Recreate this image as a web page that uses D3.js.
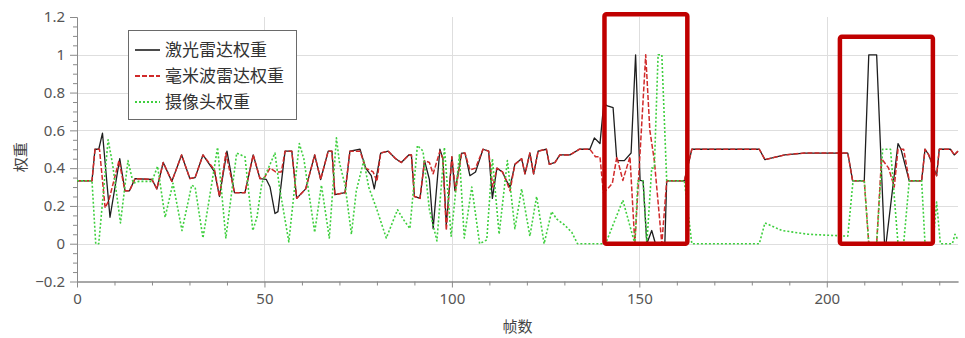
<!DOCTYPE html>
<html>
<head>
<meta charset="utf-8">
<style>
  html, body { margin: 0; padding: 0; background: #fff; }
  #viz { display: block; }
  text { font-family: "Noto Sans", "Noto Sans CJK SC", sans-serif; }
</style>
</head>
<body>
<svg id="viz" width="965" height="338"></svg>
<script src="https://cdn.jsdelivr.net/npm/d3@7"></script>
<script>
// frame numbers and weights, [frame, weight]
const laserWeight = [
  [0,0.333],[4,0.333],[4.8,0.5],[5.8,0.5],[6.8,0.585],[8.8,0.14],[11.4,0.45],[12.8,0.28],[14,0.28],[15.5,0.345],
  [20,0.34],[21.3,0.29],[23,0.43],[25.3,0.33],[27.9,0.47],[30.1,0.345],[31.5,0.35],[33.6,0.47],[36.7,0.38],[38,0.25],
  [40,0.49],[42,0.27],[44.8,0.27],[47,0.47],[48.8,0.345],[50.5,0.34],[51.5,0.3],[52.8,0.16],[53.6,0.17],[55.5,0.49],
  [57.3,0.49],[58.6,0.24],[61,0.29],[63.4,0.47],[65,0.34],[67,0.49],[68,0.49],[68.8,0.26],[71.5,0.27],[72.8,0.49],
  [75.5,0.5],[77,0.4],[78.5,0.36],[79.3,0.29],[81,0.48],[83,0.49],[85,0.45],[86.5,0.43],[88.5,0.47],[89.2,0.47],
  [90,0.25],[91.5,0.24],[92.7,0.44],[94,0.34],[95,0.08],[96.8,0.5],[97.6,0.45],[98.5,0.1],[100,0.46],[100.8,0.28],
  [102.6,0.48],[103.5,0.48],[104.8,0.36],[106.3,0.38],[108.3,0.5],[109.8,0.49],[110.8,0.24],[112,0.4],[113.5,0.38],[114.5,0.335],
  [115.5,0.3],[116.8,0.42],[118.6,0.45],[119.5,0.37],[120.8,0.48],[121.8,0.37],[123,0.49],[125.2,0.5],[126,0.42],[127.5,0.43],
  [128.8,0.47],[131.5,0.47],[134,0.5],[136.8,0.5],[138,0.56],[139.5,0.53],[140.5,0.74],[141.5,0.73],[143,0.72],[144,0.44],
  [146,0.44],[147.8,0.48],[149,1],[150.2,0.335],[151,0.333],[152,0],[153.3,0.07],[154.3,0],[156.8,0],[157.3,0.333],
  [162,0.333],[164,0.5],[182,0.5],[183.5,0.445],[188.8,0.47],[194,0.48],[205.6,0.48],[206.9,0.333],[210,0.333],[211.2,1],
  [213.3,1],[215.4,0],[215.8,0],[219,0.53],[219.8,0.5],[222,0.333],[225.3,0.333],[226.2,0.5],[227.2,0.47],[229.3,0.36],
  [230,0.5],[233,0.5],[234,0.47],[235,0.49]
];

const radarWeight = [
  [0,0.333],[4,0.333],[4.8,0.5],[6,0.5],[7.5,0.19],[8.5,0.23],[11.2,0.44],[12.8,0.28],[14,0.28],[15.5,0.345],
  [20,0.34],[21.3,0.29],[23,0.43],[25.3,0.33],[27.9,0.47],[30.1,0.345],[31.5,0.35],[33.6,0.47],[36.7,0.39],[38,0.25],
  [39.7,0.48],[42,0.27],[44.8,0.27],[47,0.47],[48.8,0.345],[50,0.35],[51.5,0.4],[53,0.38],[54.5,0.38],[55.5,0.49],
  [57.3,0.49],[58.6,0.24],[61,0.29],[63.4,0.47],[65,0.34],[67,0.49],[68,0.49],[68.8,0.26],[71.5,0.27],[72.8,0.49],
  [75.5,0.49],[77,0.4],[79,0.38],[80,0.33],[81,0.48],[83,0.49],[85,0.45],[86.5,0.43],[88.5,0.47],[89.2,0.47],
  [90,0.25],[91.5,0.24],[92.7,0.44],[94,0.43],[95,0.37],[96.8,0.49],[97.6,0.45],[98.5,0.07],[100,0.46],[101,0.28],
  [102.6,0.48],[103.5,0.48],[104.8,0.39],[106.3,0.4],[108.3,0.5],[109.8,0.49],[110.9,0.3],[112,0.4],[113.5,0.38],[114.5,0.335],
  [115.5,0.28],[116.8,0.42],[118.6,0.45],[119.5,0.37],[120.8,0.48],[121.8,0.37],[123,0.49],[125.2,0.5],[126,0.42],[127.5,0.43],
  [128.8,0.47],[131.5,0.47],[134,0.5],[136.8,0.5],[138.3,0.46],[139.5,0.46],[140.4,0.27],[141.5,0.29],[142.8,0.32],[144,0.46],
  [145.6,0.335],[147.5,0.46],[148.8,0],[151.7,1],[152.8,0.6],[154,0.44],[156,0],[157.3,0.333],[162,0.333],[164,0.5],
  [182,0.5],[183.5,0.445],[188.8,0.47],[194,0.48],[205.6,0.48],[206.9,0.333],[210,0.333],[211.2,0],[213.3,0],[214.6,0.45],
  [216.5,0.4],[218,0.3],[219,0.5],[220.5,0.5],[222,0.333],[225.3,0.333],[226.2,0.5],[227.2,0.47],[229.3,0.36],[230,0.5],
  [233,0.5],[234,0.47],[235,0.49]
];

const cameraWeight = [
  [0,0.333],[4,0.333],[5,0],[5.8,0],[8.3,0.55],[9.5,0.42],[11.6,0.11],[13.6,0.44],[15,0.32],[16.5,0.33],
  [20,0.33],[21.5,0.41],[23.5,0.14],[25.6,0.32],[28,0.07],[30.6,0.31],[31.5,0.3],[33.6,0.03],[37.5,0.51],[39.7,0.03],
  [42.6,0.48],[44.8,0.46],[46.9,0.07],[48,0.14],[49.3,0.32],[52.8,0.48],[54,0.3],[56.5,0.01],[59.3,0.53],[60.5,0.45],
  [63.4,0.06],[65.2,0.31],[67.3,0.03],[69.2,0.56],[70,0.43],[71.5,0.31],[73.2,0.05],[74.5,0.28],[76.5,0.44],[77.8,0.3],
  [80,0.18],[82.5,0.03],[85.5,0.18],[87,0.13],[88.8,0.08],[90.8,0.52],[92.3,0.49],[94,0.18],[96,0.015],[98,0.51],
  [99.8,0.04],[102,0.47],[103.3,0.03],[105.3,0.3],[107.4,0],[109.3,0.02],[110.8,0.45],[112.6,0.05],[114.8,0.44],[116.8,0.08],
  [118.6,0.29],[120.8,0.04],[122.6,0.25],[124.6,0],[126.6,0.17],[128,0.13],[130,0.1],[132,0.06],[133.5,0],[141,0],
  [145.6,0.23],[148.8,0],[149.6,0.333],[151,0.333],[152,0],[153.3,0.4],[154,0.4],[155,1],[156,1],[157.3,0.333],
  [162,0.333],[164,0],[182,0],[183.5,0.11],[188,0.07],[195,0.05],[205.6,0.04],[207,0.333],[210,0.333],[211.2,0],
  [213.3,0],[214.9,0.5],[217,0.5],[219,0],[220.5,0],[222,0.333],[225.3,0.333],[226.2,0],[228.3,0],[229.3,0.22],
  [230.3,0],[233.5,0],[234.2,0.05],[235,0.02]
];

const seriesNames = ['激光雷达权重', '毫米波雷达权重', '摄像头权重'];
const xTicks = [0, 50, 100, 150, 200];
const yTicks = [-0.2, 0, 0.2, 0.4, 0.6, 0.8, 1, 1.2];
const yTickLabels = ['\u22120.2', '0', '0.2', '0.4', '0.6', '0.8', '1', '1.2'];
const xLabel = '帧数';
const yLabel = '权重';
// highlighted regions: [frame from, frame to, weight bottom, weight top]
const highlightBoxes = [[140.7, 162.8, 0, 1.215], [203.5, 228.3, 0, 1.096]];

const svg = d3.select('#viz');
const plot = { left: 77, right: 958, top: 17, bottom: 281.5 };

const x = d3.scaleLinear().domain([0, 235]).range([plot.left, plot.right]);
const y = d3.scaleLinear().domain([-0.2, 1.2]).range([plot.bottom, plot.top]);

const styles = [
  { color: '#1e1e1e', dash: null, width: 1.3 },
  { color: '#d02a2a', dash: '5,2', width: 1.5 },
  { color: '#3fcf3f', dash: '2,2', width: 1.6 },
];

// grid
const grid = svg.append('g').attr('stroke', '#dedede').attr('stroke-width', 1);
grid.selectAll('.hg')
  .data(yTicks.filter(v => v > -0.2 && v < 1.2))
  .join('line')
  .attr('x1', plot.left).attr('x2', plot.right)
  .attr('y1', d => Math.round(y(d)) + 0.5).attr('y2', d => Math.round(y(d)) + 0.5);
grid.selectAll('.vg')
  .data(xTicks.filter(v => v > 0))
  .join('line')
  .attr('x1', d => Math.round(x(d)) + 0.5).attr('x2', d => Math.round(x(d)) + 0.5)
  .attr('y1', plot.top).attr('y2', plot.bottom);

// axes
const xAxis = d3.axisBottom(x).tickValues(xTicks).tickSize(6).tickSizeOuter(0).tickPadding(6);
const xMinor = d3.axisBottom(x).tickValues(d3.range(10, 235, 10).filter(v => v % 50)).tickSize(4).tickSizeOuter(0).tickFormat('');
const yAxis = d3.axisLeft(y).tickValues(yTicks).tickFormat((d, i) => yTickLabels[i]).tickSize(7).tickSizeOuter(0).tickPadding(5);
const yMinor = d3.axisLeft(y).tickValues(d3.range(-0.15, 1.2, 0.05).filter(v => Math.abs(Math.round(v * 5) - v * 5) > 0.01)).tickSize(4).tickSizeOuter(0).tickFormat('');

function styleAxis(g) {
  g.select('.domain').attr('stroke', '#8a8a8a');
  g.selectAll('.tick line').attr('stroke', '#8a8a8a');
  g.selectAll('.tick text').attr('fill', '#555').style('font-size', '15px').style('font-family', '"Noto Sans", sans-serif');
}

svg.append('g').attr('transform', `translate(0,${plot.bottom})`).call(xMinor).call(styleAxis);
svg.append('g').attr('transform', `translate(0,${plot.bottom})`).call(xAxis).call(styleAxis);
svg.append('g').attr('transform', `translate(${plot.left},0)`).call(yMinor).call(styleAxis);
svg.append('g').attr('transform', `translate(${plot.left},0)`).call(yAxis).call(styleAxis);

svg.append('text')
  .attr('x', (plot.left + plot.right) / 2).attr('y', 332)
  .attr('text-anchor', 'middle')
  .attr('fill', '#444')
  .style('font-size', '15px')
  .style('font-family', '"Noto Sans CJK SC", sans-serif')
  .text(xLabel);

svg.append('text')
  .attr('transform', `translate(26,${(plot.top + plot.bottom) / 2 + 8}) rotate(-90)`)
  .attr('text-anchor', 'middle')
  .attr('fill', '#444')
  .style('font-size', '15px')
  .style('font-family', '"Noto Sans CJK SC", sans-serif')
  .text(yLabel);

// series, drawn in legend order so the camera dots end up on top
const line = d3.line().x(d => x(d[0])).y(d => y(d[1]));
const series = [laserWeight, radarWeight, cameraWeight];
series.forEach((data, i) => {
  svg.append('path')
    .datum(data)
    .attr('fill', 'none')
    .attr('stroke', styles[i].color)
    .attr('stroke-width', styles[i].width)
    .attr('stroke-dasharray', styles[i].dash)
    .attr('stroke-linejoin', 'round')
    .attr('d', line);
});

// legend
const legend = svg.append('g');
legend.append('rect')
  .attr('x', 128.5).attr('y', 30.5).attr('width', 168).attr('height', 89)
  .attr('fill', '#fff').attr('stroke', '#6a6a6a').attr('stroke-width', 1);
seriesNames.forEach((name, i) => {
  const ly = 50 + i * 26;
  legend.append('line')
    .attr('x1', 135).attr('x2', 160).attr('y1', ly).attr('y2', ly)
    .attr('stroke', styles[i].color)
    .attr('stroke-width', styles[i].width + 0.3)
    .attr('stroke-dasharray', styles[i].dash);
  legend.append('text')
    .attr('x', 165).attr('y', ly + 6)
    .attr('fill', '#333')
    .style('font-size', '17px')
    .style('font-family', '"Noto Sans CJK SC", sans-serif')
    .text(name);
});

// red highlight boxes
svg.append('g').selectAll('rect')
  .data(highlightBoxes)
  .join('rect')
  .attr('x', d => x(d[0])).attr('y', d => y(d[3]))
  .attr('width', d => x(d[1]) - x(d[0]))
  .attr('height', d => y(d[2]) - y(d[3]))
  .attr('rx', 2)
  .attr('fill', 'none')
  .attr('stroke', '#c00000')
  .attr('stroke-width', 4.5);
</script>
</body>
</html>
